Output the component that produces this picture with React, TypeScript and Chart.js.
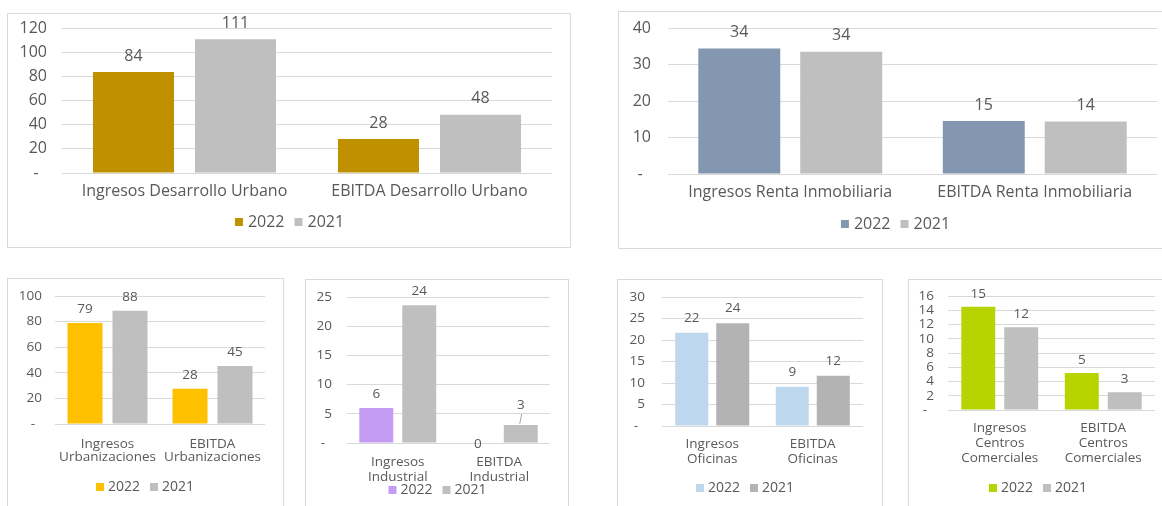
import React, { useEffect, useRef } from "react";
import { Chart, registerables } from "chart.js";

Chart.register(...registerables);

// ---------------- DATA ----------------
const seriesNames = ["2022", "2021"];

const duCategories = ["Ingresos Desarrollo Urbano", "EBITDA Desarrollo Urbano"];
const du2022 = [83.6, 28.1];
const du2021 = [110.7, 48.3];

const riCategories = ["Ingresos Renta Inmobiliaria", "EBITDA Renta Inmobiliaria"];
const ri2022 = [34.4, 14.5];
const ri2021 = [33.5, 14.4];

const urbCategories = [["Ingresos", "Urbanizaciones"], ["EBITDA", "Urbanizaciones"]];
const urb2022 = [78.9, 27.5];
const urb2021 = [88.4, 45.4];

const indCategories = [["Ingresos", "Industrial"], ["EBITDA", "Industrial"]];
const ind2022 = [6.0, 0];
const ind2021 = [23.6, 3.1];

const ofiCategories = [["Ingresos", "Oficinas"], ["EBITDA", "Oficinas"]];
const ofi2022 = [21.7, 9.1];
const ofi2021 = [23.9, 11.7];

const ccCategories = [["Ingresos", "Centros", "Comerciales"], ["EBITDA", "Centros", "Comerciales"]];
const cc2022 = [14.5, 5.2];
const cc2021 = [11.6, 2.5];

// axis ranges (max, step)
const duAxis = [120, 20];
const riAxis = [40, 10];
const urbAxis = [100, 20];
const indAxis = [25, 5];
const ofiAxis = [30, 5];
const ccAxis = [16, 2];

// ---------------- STYLE ----------------
const FONT = "'Open Sans', 'DejaVu Sans', sans-serif";
const TEXT = "#595959";
const GRID = "#D9D9D9";
const GRAY = "#BFBFBF";

const valueLabels = {
  id: "valueLabels",
  afterDatasetsDraw(chart: any, _args: any, opts: any) {
    const ctx = chart.ctx;
    ctx.save();
    ctx.font = `${opts.size}px ${FONT}`;
    ctx.fillStyle = TEXT;
    ctx.textAlign = "center";
    ctx.textBaseline = "middle";
    chart.data.datasets.forEach((ds: any, di: number) => {
      const meta = chart.getDatasetMeta(di);
      meta.data.forEach((bar: any, i: number) => {
        const v = ds.data[i] as number;
        const nudge = (opts.nudges || []).find((n: any) => n.ds === di && n.i === i);
        const y = bar.y - opts.offset + (nudge ? nudge.dy : 0);
        ctx.fillText(String(Math.round(v)), bar.x, y);
        if (nudge && nudge.leader) {
          ctx.strokeStyle = "#A6A6A6";
          ctx.lineWidth = 1;
          ctx.beginPath();
          ctx.moveTo(bar.x + 1, y + 9);
          ctx.lineTo(bar.x - 1, bar.y - 1);
          ctx.stroke();
        }
      });
    });
    ctx.restore();
  },
};

// moves the legend box to a given centre (canvas coords)
const legendMover = {
  id: "legendMover",
  afterLayout(chart: any, _args: any, opts: any) {
    const lg = chart.legend;
    if (!lg) return;
    const dx = opts.cx - (lg.left + lg.right) / 2;
    const dy = opts.cy - (lg.top + opts.pad + opts.itemH / 2);
    lg.left += dx;
    lg.right += dx;
    lg.top += dy;
    lg.bottom += dy;
  },
};

type Spec = {
  box: { x: number; y: number; w: number; h: number };
  plot: { l: number; r: number; t: number; b: number };
  categories: any[];
  d2022: number[];
  d2021: number[];
  axis: number[];
  color: string;
  gray: string;
  size: number;
  legendSize: number;
  lineHeight: number;
  labelPad: number;
  tickPad: number;
  legendY: number;
  legendCenter: number;
  valOffset: number;
  barPct: number;
  catPct: number;
  zero: string;
  nudges?: any[];
};

function Panel({ s }: { s: Spec }) {
  const ref = useRef<HTMLCanvasElement | null>(null);
  const cL = s.box.x + 1;
  const cT = s.box.y + 1;
  const cw = s.box.w - 2;
  const ch = s.box.h - 2;

  useEffect(() => {
    if (!ref.current) return;
    const tgtL = s.plot.l - cL;
    const tgtR = s.plot.r - cL;
    const tgtT = s.plot.t - cT;
    const tgtB = s.plot.b - cT;
    const itemH = s.legendSize;
    const legPad = 13;
    const legendH = itemH + legPad + 10;
    const p = {
      padT: tgtT,
      padR: cw - tgtR,
      yw: tgtL,
      xh: ch - legendH - tgtB,
    };

    const chart = new Chart(ref.current, {
      type: "bar",
      data: {
        labels: s.categories,
        datasets: [
          {
            label: seriesNames[0],
            data: s.d2022,
            backgroundColor: s.color,
            borderWidth: 0,
            barPercentage: s.barPct,
            categoryPercentage: s.catPct,
          },
          {
            label: seriesNames[1],
            data: s.d2021,
            backgroundColor: s.gray,
            borderWidth: 0,
            barPercentage: s.barPct,
            categoryPercentage: s.catPct,
          },
        ],
      },
      options: {
        responsive: false,
        maintainAspectRatio: false,
        animation: false,
        layout: { padding: { left: 0, right: p.padR, top: p.padT, bottom: 0 } },
        plugins: {
          legend: {
            position: "bottom",
            labels: {
              usePointStyle: true,
              pointStyle: "rect",
              boxWidth: 2,
              boxHeight: 8,
              padding: legPad,
              color: TEXT,
              font: { family: FONT, size: s.legendSize },
            },
          },
          tooltip: { enabled: false },
          valueLabels: { size: s.size, offset: s.valOffset, nudges: s.nudges || [] },
          legendMover: {
            cx: s.legendCenter - cL,
            cy: s.legendY - cT,
            pad: legPad,
            itemH,
          },
        } as any,
        scales: {
          x: {
            grid: { display: false },
            border: { display: false },
            ticks: {
              color: TEXT,
              font: { family: FONT, size: s.size, lineHeight: s.lineHeight },
              padding: s.labelPad,
              maxRotation: 0,
              minRotation: 0,
              autoSkip: false,
            },
            afterFit: (sc: any) => {
              sc.height = p.xh;
            },
          },
          y: {
            min: 0,
            max: s.axis[0],
            ticks: {
              stepSize: s.axis[1],
              autoSkip: false,
              padding: 0,
              color: TEXT,
              font: { family: FONT, size: s.size },
              callback: (v: any) => (Number(v) === 0 ? s.zero : String(v)),
            },
            grid: {
              color: GRID,
              drawTicks: true,
              tickLength: s.tickPad,
              tickColor: "rgba(0,0,0,0)",
              lineWidth: 1,
            },
            border: { display: false },
            afterFit: (sc: any) => {
              sc.width = p.yw;
            },
          },
        },
      },
      plugins: [valueLabels as any, legendMover as any],
    });

    // refine the layout so that the plot area lands where it should
    for (let k = 0; k < 5; k++) {
      const ca = chart.chartArea;
      const dT = tgtT - ca.top;
      const dB = ca.bottom - tgtB;
      const dL = tgtL - ca.left;
      const dR = ca.right - tgtR;
      if (Math.abs(dT) < 0.5 && Math.abs(dB) < 0.5 && Math.abs(dL) < 0.5 && Math.abs(dR) < 0.5) break;
      p.padT = Math.max(0, p.padT + dT);
      p.xh = p.xh + dB;
      p.yw = p.yw + dL;
      p.padR = Math.max(0, p.padR + dR);
      (chart.options as any).layout.padding = { left: 0, right: p.padR, top: p.padT, bottom: 0 };
      chart.update();
    }
    return () => chart.destroy();
  }, []);

  return (
    <div
      style={{
        position: "absolute",
        left: s.box.x,
        top: s.box.y,
        width: s.box.w,
        height: s.box.h,
        border: "1px solid #D9D9D9",
        boxSizing: "border-box",
        background: "#fff",
      }}
    >
      <canvas
        ref={ref}
        width={cw}
        height={ch}
        style={{ position: "absolute", left: 0, top: 0, width: cw, height: ch }}
      />
    </div>
  );
}

const panels: Spec[] = [
  {
    box: { x: 7, y: 13, w: 564, h: 235 },
    plot: { l: 62, r: 552, t: 28, b: 173 },
    categories: duCategories, d2022: du2022, d2021: du2021, axis: duAxis,
    color: "#BF9000", gray: GRAY, size: 16, legendSize: 16, lineHeight: 1.2,
    labelPad: 1, tickPad: 15, legendY: 222, legendCenter: 291, valOffset: 16,
    barPct: 0.794, catPct: 0.833, zero: "-  ",
  },
  {
    box: { x: 618, y: 11, w: 560, h: 238 },
    plot: { l: 668, r: 1157, t: 28, b: 174 },
    categories: riCategories, d2022: ri2022, d2021: ri2021, axis: riAxis,
    color: "#8497B0", gray: GRAY, size: 16, legendSize: 16, lineHeight: 1.2,
    labelPad: 1, tickPad: 17, legendY: 224, legendCenter: 897, valOffset: 16,
    barPct: 0.804, catPct: 0.834, zero: "-  ",
  },
  {
    box: { x: 7, y: 278, w: 277, h: 252 },
    plot: { l: 55, r: 265, t: 296, b: 424 },
    categories: urbCategories, d2022: urb2022, d2021: urb2021, axis: urbAxis,
    color: "#FFC000", gray: GRAY, size: 13.5, legendSize: 14, lineHeight: 1.0,
    labelPad: 5, tickPad: 13, legendY: 487, legendCenter: 146.5, valOffset: 14,
    barPct: 0.778, catPct: 0.857, zero: "-  ",
  },
  {
    box: { x: 305, y: 279, w: 264, h: 252 },
    plot: { l: 347, r: 550, t: 297, b: 443 },
    categories: indCategories, d2022: ind2022, d2021: ind2021, axis: indAxis,
    color: "#C59CF4", gray: GRAY, size: 13.5, legendSize: 14, lineHeight: 1.07,
    labelPad: 4, tickPad: 15, legendY: 490, legendCenter: 439, valOffset: 14,
    barPct: 0.79, catPct: 0.847, zero: "-  ",
    nudges: [
      { ds: 0, i: 1, dy: 15 },
      { ds: 1, i: 1, dy: -6, leader: true },
    ],
  },
  {
    box: { x: 617, y: 279, w: 266, h: 252 },
    plot: { l: 662, r: 863, t: 297, b: 426 },
    categories: ofiCategories, d2022: ofi2022, d2021: ofi2021, axis: ofiAxis,
    color: "#BDD7EE", gray: "#B3B3B3", size: 13.5, legendSize: 14, lineHeight: 1.07,
    labelPad: 3, tickPad: 17, legendY: 488, legendCenter: 746.5, valOffset: 15,
    barPct: 0.805, catPct: 0.816, zero: "-  ",
  },
  {
    box: { x: 908, y: 279, w: 270, h: 252 },
    plot: { l: 948, r: 1155, t: 296, b: 410 },
    categories: ccCategories, d2022: cc2022, d2021: cc2021, axis: ccAxis,
    color: "#B8D400", gray: GRAY, size: 13.5, legendSize: 14, lineHeight: 1.1,
    labelPad: 3, tickPad: 14, legendY: 488, legendCenter: 1039.5, valOffset: 13,
    barPct: 0.79, catPct: 0.83, zero: "-  ",
  },
];

export default function App() {
  return (
    <div
      style={{
        position: "fixed",
        left: 0,
        top: 0,
        width: 1162,
        height: 506,
        overflow: "hidden",
        background: "#fff",
      }}
    >
      {panels.map((p, i) => (
        <Panel key={i} s={p} />
      ))}
    </div>
  );
}
